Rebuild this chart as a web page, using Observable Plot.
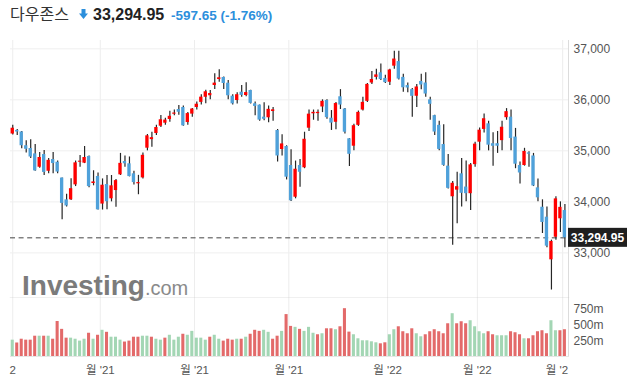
<!DOCTYPE html>
<html><head><meta charset="utf-8">
<script src="https://cdn.jsdelivr.net/npm/d3@7"></script>
<script src="https://cdn.jsdelivr.net/npm/@observablehq/plot@0.6"></script>
<style>
body{margin:0;background:#fff;}
#wrap{position:relative;width:635px;height:387px;overflow:hidden;background:#fff;font-family:"Liberation Sans",Arial,"Noto Sans CJK KR",sans-serif;}
.abs{position:absolute;line-height:1;white-space:nowrap;}
#name{left:10px;top:5px;font-size:16px;color:#333;font-family:"Noto Sans CJK KR",sans-serif;}
#arrow{left:79px;top:9px;}
#last{left:93px;top:6.5px;font-size:16px;font-weight:bold;color:#222;}
#chg{left:171px;top:8.5px;font-size:13.5px;font-weight:bold;color:#2c8fdc;}
#price{position:absolute;left:0;top:35px;}
#volume{position:absolute;left:0;top:298px;}
#wm{position:absolute;left:22px;top:272px;line-height:28px;white-space:nowrap;}
#wm .inv{font-size:28px;font-weight:bold;color:#7b7b7b;}
#wm .com{font-size:20px;color:#8a8a8a;}
</style></head><body>
<div id="wrap">
  <span class="abs" id="name">다우존스</span>
  <svg class="abs" id="arrow" width="9" height="10" viewBox="0 0 9 10"><path d="M2.5 0H6.5V4.5H9L4.5 10L0 4.5H2.5Z" fill="#2c8fdc"/></svg>
  <span class="abs" id="last"></span>
  <span class="abs" id="chg"></span>
  <div id="price"></div>
  <div id="volume"></div>
  <div id="wm"><span class="inv">Investing</span><span class="com">.com</span></div>
</div>
<script>
// Daily Dow Jones candles, 2 Sep 2021 .. 1 Mar 2022
const open = [35330,35400,35370,35100,35046,34940,34679,34928,34600,34830,
34777,34467,34040,34040,34333,34777,34758,34889,34360,34498,
33957,34340,34060,34222,34530,34791,34746,34550,34354,34470,
35052,35220,35340,35483,35542,35615,35718,35810,35850,35555,
35720,35850,35950,36050,36080,36281,36398,36438,36326,36071,
35987,36150,36085,36183,35922,35896,35660,35648,35771,35399,
35026,35085,34713,34091,34713,34668,35444,35726,35730,35860,
35987,35640,35560,36060,35820,35236,35091,35500,35800,35970,
36330,36440,36530,36420,36345,36660,36750,36440,36280,36200,
36070,36360,36330,36000,35690,35500,35124,34700,34100,34230,
34550,34290,34160,34730,35170,35420,35530,35140,35140,35200,
35650,35660,35270,34713,34713,34960,34900,34275,33895,33700,
32864,33307,33668,33830];
const high = [35500,35420,35380,35200,35220,35124,34967,35007,34850,34967,
34800,34470,34150,34452,34800,34909,35085,34900,34610,34564,
34450,34517,34517,34440,34950,34900,34880,34600,34520,34960,
35320,35365,35500,35693,35640,35777,35800,35890,35880,35750,
35830,35960,36100,36190,36183,36510,36588,36450,36380,36100,
36140,36280,36334,36190,35960,35900,35942,35880,35850,35420,
35314,35100,35020,34800,34830,35365,35800,35800,35800,36000,
36000,35790,35950,36200,35830,35240,35520,35780,36050,36320,
36555,36600,36700,36480,36600,36952,36950,36500,36330,36220,
36300,36500,36530,36050,35700,35580,35510,34928,34400,34580,
34850,34800,34750,35170,35450,35720,35580,35354,35380,35580,
35828,35800,35440,34780,35050,34980,34950,34450,34040,33900,
33250,34100,34000,33950];
const low = [35310,35300,35040,34960,34850,34600,34660,34517,34550,34550,
34550,33648,33900,34027,34300,34680,34750,34275,34315,33840,
33840,33844,34000,33895,34517,34680,34490,34330,34140,34450,
35000,35071,35300,35460,35500,35560,35690,35700,35480,35500,
35660,35800,35900,35922,36000,36202,36345,36202,36000,35900,
35920,36050,36060,35920,35690,35580,35590,35550,35580,34780,
34900,34430,34006,34060,34287,34650,35380,35600,35580,35750,
35620,35400,35412,35810,35330,34693,35000,35480,35780,35950,
36300,36390,36380,36320,36280,36600,36390,36150,36140,35660,
35850,36200,36050,35600,35300,35000,34700,34250,33150,33570,
33900,34000,33830,34680,35000,35350,35000,34700,34950,35000,
35600,35000,34650,34350,34700,34680,34300,34000,33380,33100,
32272,33250,33400,33100];
const close = [35443.82,35369.09,35100.00,35031.07,34879.38,34607.72,34869.63,34577.57,34814.39,34751.32,
34584.88,33970.47,33919.84,34258.32,34764.82,34798.00,34869.37,34299.99,34390.72,33843.92,
34326.46,34002.92,34314.67,34416.99,34754.94,34746.25,34496.06,34378.34,34377.81,34912.56,
35294.76,35258.61,35457.31,35609.34,35603.08,35677.02,35741.15,35756.88,35490.69,35730.48,
35819.56,35913.84,36052.63,36157.58,36124.23,36327.95,36432.22,36319.98,36079.94,35921.23,
36100.31,36087.45,36142.22,35931.05,35870.95,35601.98,35619.25,35813.80,35804.38,34899.34,
35135.94,34483.72,34022.04,34639.79,34580.08,35227.03,35719.43,35754.75,35754.69,35970.99,
35650.95,35544.18,35927.43,35897.64,35365.44,34932.16,35492.70,35753.89,35950.56,36302.38,
36398.21,36488.63,36398.08,36338.30,36585.06,36799.65,36407.11,36236.47,36231.66,36068.87,
36252.02,36290.32,36113.62,35911.81,35368.47,35028.65,34715.39,34265.37,34364.50,34297.73,
34168.09,34160.78,34725.47,35131.86,35405.24,35629.33,35111.16,35089.74,35091.13,35462.78,
35768.06,35241.59,34738.06,34566.17,34988.84,34934.27,34312.03,34079.18,33596.61,33131.76,
33223.83,34058.75,33892.60,33294.95];
const prevClose = 35312.53; // close of the day before the first candle
// volume in millions
const volume = [260,215,275,260,260,323,323,323,323,275,
557,432,292,292,275,245,275,370,275,338,
417,385,307,307,260,230,245,307,307,323,
323,307,275,260,292,338,260,307,354,338,
400,292,292,260,307,338,275,245,275,260,
275,275,307,354,417,400,417,385,275,323,
400,667,479,464,432,400,464,370,346,362,
441,441,426,473,761,388,346,282,250,250,
234,218,202,218,346,426,473,394,362,441,
362,314,346,394,426,394,362,521,681,521,
553,521,569,473,394,362,394,346,330,330,
330,394,378,346,282,282,330,394,410,362,
569,410,410,426];

const priceTicks = [33000, 34000, 35000, 36000, 37000];
const volumeTicks = [250, 500, 750];
const xTickPos = [0, 19.5, 40.5, 61.5, 83.5, 103.5, 122.5];
const xTickLabels = ["2", "월 '21", "월 '21", "월 '21", "월 '22", "월 '22", "월 '2"];

const UP = "#ff0000", DOWN = "#4fa1da", VUP = "#a3d6b4", VDOWN = "#e36a6a";
const FONT = '"Liberation Sans", Arial, "Noto Sans CJK KR", sans-serif';
const loc = d3.formatLocale({decimal: ".", thousands: ",", grouping: [3], currency: ["$", ""], minus: "-"});
const fmt2 = loc.format(",.2f"), fmtP = loc.format(".2f"), fmtInt = loc.format(",");

const N = close.length;
const rows = d3.range(N).map(i => ({
  i, open: open[i], high: high[i], low: low[i], close: close[i], volume: volume[i],
  volUp: close[i] >= (i === 0 ? prevClose : close[i - 1])
}));
const last = close[N - 1], prev = close[N - 2];
document.getElementById("last").textContent = fmt2(last);
document.getElementById("chg").textContent = fmt2(last - prev) + " (" + fmtP((last - prev) / prev * 100) + "%)";

const xDomain = [-0.5, N - 0.2];

const price = Plot.plot({
  width: 635, height: 263,
  marginLeft: 10, marginRight: 67, marginTop: 5, marginBottom: 0,
  style: {fontFamily: FONT, fontSize: "12px", color: "#555", background: "transparent"},
  x: {domain: xDomain, axis: null},
  y: {domain: [32106, 37163], axis: null},
  color: {type: "identity"},
  marks: [
    Plot.gridX(xTickPos, {stroke: "#ededed", strokeOpacity: 1}),
    Plot.gridY(priceTicks, {stroke: "#efefef", strokeOpacity: 1}),
    Plot.frame({anchor: "right", stroke: "#dcdcdc"}),
    Plot.frame({anchor: "bottom", stroke: "#c3c3c3", strokeWidth: 1.5}),
    Plot.axisY(priceTicks, {anchor: "right", label: null, tickSize: 0, tickPadding: 5, tickFormat: fmtInt, fill: "#555", fontSize: 12}),
    Plot.ruleY([last], {stroke: "#444", strokeWidth: 1, strokeDasharray: "5,3.6"}),
    Plot.ruleX(rows, {x: "i", y1: "low", y2: "high", stroke: "#262626", strokeWidth: 1.2}),
    Plot.rect(rows, {x1: d => d.i - 0.37, x2: d => d.i + 0.37, y1: "open", y2: "close",
      fill: d => d.close >= d.open ? UP : DOWN})
  ]
});
// last-price tag on the right axis
{
  const ys = price.scale("y"), xs = price.scale("x");
  const yy = ys.apply(last), x0 = xs.range[1];
  const g = d3.select(price).append("g");
  g.append("rect").attr("x", x0).attr("y", yy - 9.5).attr("width", 59).attr("height", 19).attr("fill", "#1f1f1f");
  g.append("text").attr("x", x0 + 29.5).attr("y", yy + 4.3).attr("text-anchor", "middle")
    .attr("fill", "#fff").attr("font-weight", "bold").attr("font-size", 12).attr("font-family", FONT)
    .text(fmt2(last));
}
document.getElementById("price").append(price);

const vol = Plot.plot({
  width: 635, height: 89,
  marginLeft: 10, marginRight: 67, marginTop: 0, marginBottom: 31,
  style: {fontFamily: FONT, fontSize: "12px", color: "#555", background: "transparent"},
  x: {domain: xDomain, axis: null},
  y: {domain: [0, 923], axis: null},
  color: {type: "identity"},
  marks: [
    Plot.gridX(xTickPos, {stroke: "#ededed", strokeOpacity: 1}),
    Plot.frame({anchor: "right", stroke: "#dcdcdc"}),
    Plot.frame({anchor: "bottom", stroke: "#e6e6e6"}),
    Plot.rect(rows, {x1: d => d.i - 0.34, x2: d => d.i + 0.34, y1: d => 0, y2: "volume",
      fill: d => d.volUp ? VUP : VDOWN}),
    Plot.axisY(volumeTicks, {anchor: "right", label: null, tickSize: 0, tickPadding: 5, tickFormat: d => d + "m", fill: "#555", fontSize: 12}),
    Plot.axisX(xTickPos.slice(0, -1), {anchor: "bottom", label: null, tickSize: 0, tickPadding: 9, fontSize: 11.5, fill: "#555",
      tickFormat: d => xTickLabels[xTickPos.indexOf(d)]}),
    Plot.axisX(xTickPos.slice(-1), {anchor: "bottom", label: null, tickSize: 0, tickPadding: 9, fontSize: 11.5, fill: "#555",
      textAnchor: "end", dx: 5.5, tickFormat: d => xTickLabels[xTickPos.indexOf(d)]})
  ]
});
document.getElementById("volume").append(vol);
</script>
</body></html>
